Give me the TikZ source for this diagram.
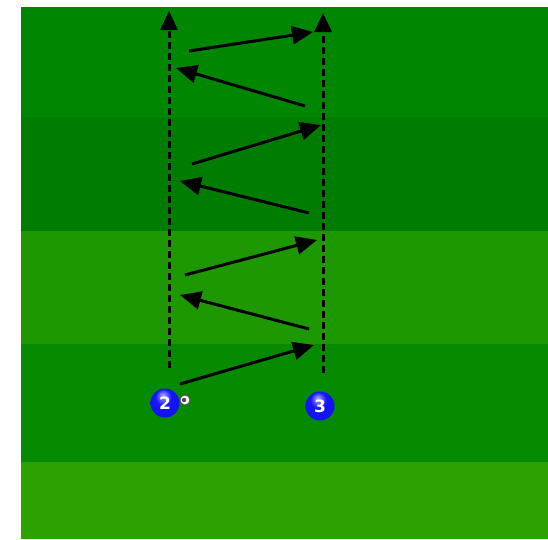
\documentclass[tikz,border=0pt]{standalone}
\usepackage{fontspec}
\newfontfamily\numberfont{DejaVu Sans}
\usepackage{xcolor}
\definecolor{pitchA}{RGB}{0,134,0}
\definecolor{pitchB}{RGB}{0,124,0}
\definecolor{pitchC}{RGB}{30,152,0}
\definecolor{pitchD}{RGB}{6,138,0}
\definecolor{pitchE}{RGB}{44,162,0}
\definecolor{playerblue}{RGB}{20,20,255}
\usepackage{tikz}
\usetikzlibrary{arrows.meta,positioning,shapes.geometric}
\pgfdeclareradialshading{playerball}{\pgfpoint{-4bp}{14bp}}{%
  color(0bp)=(playerblue!35!white); color(14bp)=(playerblue);
  color(36bp)=(playerblue!90!black); color(50bp)=(playerblue!55!black)}
\tikzset{
  player/.style={circle, minimum size=29pt, inner sep=0pt, shading=playerball, text=white, font=\fontsize{17}{17}\numberfont\bfseries},
  pass/.style={-{Triangle[length=21pt,width=18pt]}, line width=3pt},
  run/.style={-{Triangle[length=19pt,width=17pt]}, line width=3pt, dash pattern=on 7pt off 4pt},
}

\begin{document}
\begin{tikzpicture}[x=1pt,y=-1pt]
  \useasboundingbox (0,0) rectangle (548,539);
  % pitch stripes
  \fill[pitchA] (21,7) rectangle (548,117);
  \fill[pitchB] (21,117) rectangle (548,231);
  \fill[pitchC] (21,231) rectangle (548,344);
  \fill[pitchD] (21,344) rectangle (548,462);
  \fill[pitchE] (21,462) rectangle (548,539);

  % players
  \node[player] (p2) at (165,403) {2};
  \node[player] (p3) at (320,406) {3};
  \node[circle, draw=black!70, fill=white, line width=0.8pt, minimum size=10pt, inner sep=0pt] (ball) at (185,400) {};
  \fill[black!70] ([xshift=-1pt]ball.center) circle (2.2pt);

  % runs
  \coordinate (r2a) at (169,368);
  \coordinate (r2b) at (169,11);
  \coordinate (r3a) at (323,373);
  \coordinate (r3b) at (323,13);
  \draw[run] (r2a) -- (r2b);
  \draw[run] (r3a) -- (r3b);

  % passes
  \coordinate (a1) at (180,384);  \coordinate (b1) at (314,345);
  \coordinate (a2) at (309,329);  \coordinate (b2) at (180,295);
  \coordinate (a3) at (185,275);  \coordinate (b3) at (317,240);
  \coordinate (a4) at (309,213);  \coordinate (b4) at (180,181);
  \coordinate (a5) at (192,164);  \coordinate (b5) at (321,125);
  \coordinate (a6) at (305,106);  \coordinate (b6) at (176,68);
  \coordinate (a7) at (189,51);   \coordinate (b7) at (313,32);
  \foreach \i in {1,...,7}
    \draw[pass] (a\i) -- (b\i);
\end{tikzpicture}
\end{document}
